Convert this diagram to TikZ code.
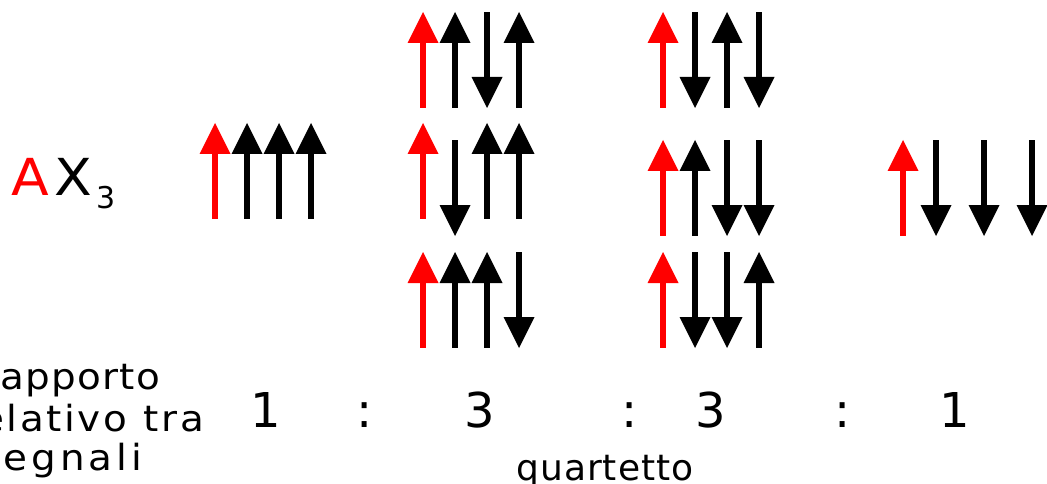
\documentclass[tikz,border=0pt]{standalone}
\usepackage{fontspec}
\setmainfont{DejaVu Sans}
\newcommand\spinup[3]{%
  \fill[#3] (#1-3,#2+30) rectangle (#1+3,#2+96);
  \fill[#3] (#1-15.5,#2+31) -- (#1+15.5,#2+31) -- (#1,#2) -- cycle;}
\newcommand\spindown[3]{%
  \fill[#3] (#1-3,#2) rectangle (#1+3,#2+66);
  \fill[#3] (#1-15.5,#2+65) -- (#1+15.5,#2+65) -- (#1,#2+96) -- cycle;}
\tikzset{
  txt/.style={inner sep=0pt, outer sep=0pt},
  big/.style={txt, font=\fontsize{51}{60}\selectfont\addfontfeature{FakeStretch=1.08}},
  num/.style={txt, anchor=base, font=\fontsize{48}{56}\selectfont},
  small/.style={txt, anchor=base east, font=\fontsize{36}{42}\selectfont\addfontfeature{FakeStretch=1.08,LetterSpace=3.5}},
  smallwide/.style={txt, anchor=base east, font=\fontsize{36}{42}\selectfont\addfontfeature{FakeStretch=1.08,LetterSpace=7}},
  smallwider/.style={txt, anchor=base east, font=\fontsize{36}{42}\selectfont\addfontfeature{FakeStretch=1.08,LetterSpace=11}},
  caption/.style={txt, anchor=base, font=\fontsize{36}{42}\selectfont\addfontfeature{LetterSpace=2.5}},
}
\begin{document}
\begin{tikzpicture}[x=1pt,y=-1pt]
\useasboundingbox (0,0) rectangle (1047,484);
% AX3 label
\node[big, anchor=base west, text=red] (A) at (11,195) {A};
\node[big, anchor=base west] (X) at (54,195) {X};
\node[txt, anchor=base west, font=\fontsize{30}{34}\selectfont] (sub) at (96,208) {3};
% column 1
\spinup{215}{123}{red}\spinup{247}{123}{black}\spinup{279}{123}{black}\spinup{311}{123}{black}
% column 2
\spinup{423}{12}{red}\spinup{455}{12}{black}\spindown{487}{12}{black}\spinup{519}{12}{black}
\spinup{423}{123}{red}\spindown{455}{140}{black}\spinup{487}{123}{black}\spinup{519}{123}{black}
\spinup{423}{252}{red}\spinup{455}{252}{black}\spinup{487}{252}{black}\spindown{519}{252}{black}
% column 3
\spinup{663}{12}{red}\spindown{695}{12}{black}\spinup{727}{12}{black}\spindown{759}{12}{black}
\spinup{663}{140}{red}\spinup{695}{140}{black}\spindown{727}{140}{black}\spindown{759}{140}{black}
\spinup{663}{252}{red}\spindown{695}{252}{black}\spindown{727}{252}{black}\spinup{759}{252}{black}
% column 4
\spinup{903}{140}{red}\spindown{936}{140}{black}\spindown{984}{140}{black}\spindown{1032}{140}{black}
% ratio
\node[num] (n1) at (266,427) {1};
\node[num] (c1) at (365,427) {:};
\node[num] (n2) at (480,427) {3};
\node[num] (c2) at (630,427) {:};
\node[num] (n3) at (711,427) {3};
\node[num] (c3) at (843,427) {:};
\node[num] (n4) at (955,427) {1};
% left text
\node[small] (l1) at (160,389) {Rapporto};
\node[smallwide] (l2) at (204,431) {relativo\hspace{2pt} tra};
\node[smallwider] (l3) at (142,470) {i segnali};
\node[caption] (q) at (605,480) {quartetto};
\end{tikzpicture}
\end{document}
